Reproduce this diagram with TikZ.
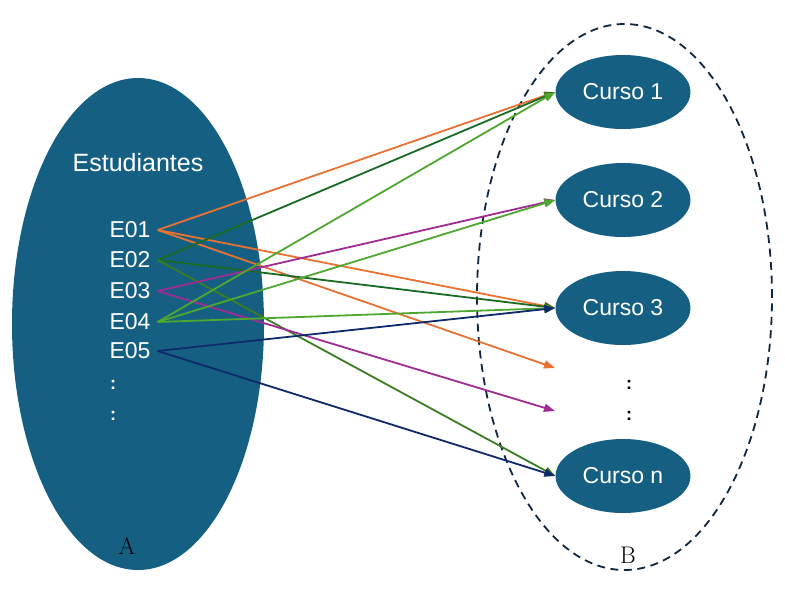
\documentclass[tikz,border=0pt]{standalone}
\usepackage{fontspec}
\setsansfont{Liberation Sans}
\usetikzlibrary{shapes.geometric,arrows.meta}
\definecolor{teal}{HTML}{156082}
\definecolor{corange}{HTML}{E97132}
\definecolor{cdkgreen}{HTML}{196B24}
\definecolor{cmdgreen}{HTML}{3A7D22}
\definecolor{cpurple}{HTML}{A02B93}
\definecolor{cltgreen}{HTML}{4EA72E}
\definecolor{cnavy}{HTML}{0E2A6B}
\definecolor{cdash}{HTML}{0E2841}
\tikzset{
  setA/.style={ellipse, fill=teal, minimum width=252pt, minimum height=492pt, inner sep=0pt},
  setB/.style={ellipse, draw=cdash, line width=1.8pt, dash pattern=on 8pt off 5.5pt, minimum width=295pt, minimum height=546pt, inner sep=0pt},
  curso/.style={ellipse, fill=teal, minimum width=135pt, minimum height=74pt, inner sep=0pt, text=white, font=\sffamily\fontsize{23}{27}\selectfont},
  elab/.style={text=white, inner xsep=7pt, inner ysep=0pt, font=\sffamily\fontsize{23}{27}\selectfont},
  wlab/.style={text=white, font=\sffamily\fontsize{25}{29}\selectfont},
  dotsw/.style={text=white, inner sep=0pt, font=\sffamily\bfseries\fontsize{18}{20}\selectfont},
  dotsb/.style={text=black, inner sep=0pt, font=\sffamily\bfseries\fontsize{18}{20}\selectfont},
  setlab/.style={text=black, font=\fontsize{24}{28}\selectfont},
  arr/.style={line width=1.8pt, -{Triangle[length=11pt,width=8pt]}},
}
\begin{document}
\begin{tikzpicture}[x=1pt,y=-1pt]
\useasboundingbox (0,0) rectangle (785,590);
% sets
\node[setA] (A) at (138,324) {};
\node[setB] (B) at (624.5,297) {};
% labels in A
\node[wlab] (est) at (138,163) {Estudiantes};
\node[elab] (e1) at (130,230) {E01};
\node[elab] (e2) at (130,260) {E02};
\node[elab] (e3) at (130,291) {E03};
\node[elab] (e4) at (130,322) {E04};
\node[elab] (e5) at (130,351) {E05};
\node[dotsw] (ld1) at (113,385) {:};
\node[dotsw] (ld2) at (113,416) {:};
\node[setlab] (la) at (127,546) {A};
% courses
\node[curso] (c1) at (623,92) {Curso 1};
\node[curso] (c2) at (623,200) {Curso 2};
\node[curso] (c3) at (623,308) {Curso 3};
\node[curso] (cn) at (623,476) {Curso n};
\node[dotsb] (rd1) at (629,385) {:};
\node[dotsb] (rd2) at (629,416) {:};
\node[setlab] (lb) at (628,555) {B};
\coordinate (d1) at (555,368);
\coordinate (d2) at (555,411);
% arrows
\draw[arr, corange] (e1.east) -- (c1.west);
\draw[arr, corange] (e1.east) -- (c3.west);
\draw[arr, corange] (e1.east) -- (d1);
\draw[arr, cdkgreen] (e2.east) -- (c1.west);
\draw[arr, cdkgreen] (e2.east) -- (c3.west);
\draw[arr, cmdgreen] (e2.east) -- (cn.west);
\draw[arr, cpurple] (e3.east) -- (c2.west);
\draw[arr, cpurple] (e3.east) -- (d2);
\draw[arr, cltgreen] (e4.east) -- (c1.west);
\draw[arr, cltgreen] (e4.east) -- (c2.west);
\draw[arr, cltgreen] (e4.east) -- (c3.west);
\draw[arr, cnavy] (e5.east) -- (c3.west);
\draw[arr, cnavy] (e5.east) -- (cn.west);
\end{tikzpicture}
\end{document}
